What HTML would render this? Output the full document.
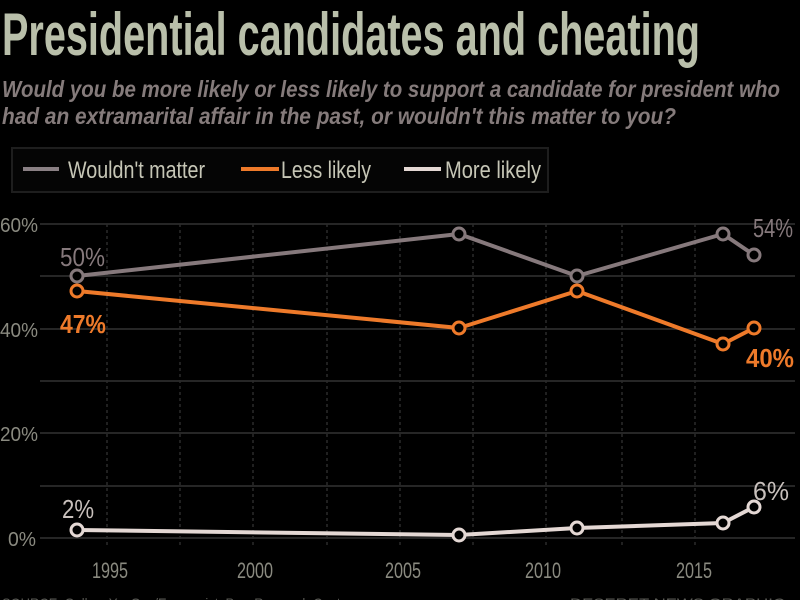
<!DOCTYPE html>
<html><head><meta charset="utf-8"><style>
html,body{margin:0;padding:0;background:#000;}
svg{display:block;}
text{font-family:"Liberation Sans Narrow","Liberation Sans",sans-serif;}
</style></head><body>
<svg width="800" height="600" viewBox="0 0 800 600" xmlns="http://www.w3.org/2000/svg">
<rect width="800" height="600" fill="#000"/>
<text x="2" y="55" font-size="60" font-weight="bold" fill="#b9bfaa" textLength="698" lengthAdjust="spacingAndGlyphs">Presidential candidates and cheating</text>
<text x="2" y="97" font-size="23" font-weight="bold" font-style="italic" fill="#857b7b" textLength="778" lengthAdjust="spacingAndGlyphs">Would you be more likely or less likely to support a candidate for president who</text>
<text x="2" y="124" font-size="23" font-weight="bold" font-style="italic" fill="#857b7b" textLength="674" lengthAdjust="spacingAndGlyphs">had an extramarital affair in the past, or wouldn't this matter to you?</text>
<rect x="12" y="148" width="536" height="44" fill="#050505" stroke="#1e1e1e" stroke-width="2"/>
<line x1="23" y1="169" x2="59" y2="169" stroke="#8a8084" stroke-width="4"/>
<text x="68" y="178" font-size="24" fill="#c6c6b6" textLength="137" lengthAdjust="spacingAndGlyphs">Wouldn't matter</text>
<line x1="241" y1="169" x2="279" y2="169" stroke="#ee7a2a" stroke-width="4"/>
<text x="281" y="178" font-size="24" fill="#c6c6b6" textLength="90" lengthAdjust="spacingAndGlyphs">Less likely</text>
<line x1="404" y1="169" x2="441" y2="169" stroke="#e4d8d4" stroke-width="4"/>
<text x="445" y="178" font-size="24" fill="#c6c6b6" textLength="96" lengthAdjust="spacingAndGlyphs">More likely</text>
<g stroke="#262626" stroke-width="2">
<line x1="40" y1="224" x2="795" y2="224"/><line x1="40" y1="276" x2="795" y2="276"/>
<line x1="40" y1="329" x2="795" y2="329"/><line x1="40" y1="381" x2="795" y2="381"/>
<line x1="40" y1="433" x2="795" y2="433"/><line x1="40" y1="486" x2="795" y2="486"/>
<line x1="40" y1="538" x2="795" y2="538"/>
</g>
<g stroke="#2a2a2a" stroke-width="1.5" stroke-dasharray="3,3">
<line x1="107" y1="224" x2="107" y2="545"/><line x1="180" y1="224" x2="180" y2="545"/>
<line x1="253" y1="224" x2="253" y2="545"/><line x1="327" y1="224" x2="327" y2="545"/>
<line x1="400" y1="224" x2="400" y2="545"/><line x1="473" y1="224" x2="473" y2="545"/>
<line x1="546" y1="224" x2="546" y2="545"/><line x1="622" y1="224" x2="622" y2="545"/>
<line x1="695" y1="224" x2="695" y2="545"/>
</g>
<g font-size="20" fill="#8a8a80">
<text x="0" y="232" textLength="38" lengthAdjust="spacingAndGlyphs">60%</text>
<text x="0" y="337" textLength="38" lengthAdjust="spacingAndGlyphs">40%</text>
<text x="0" y="441" textLength="38" lengthAdjust="spacingAndGlyphs">20%</text>
<text x="8" y="546" textLength="28" lengthAdjust="spacingAndGlyphs">0%</text>
</g>
<g font-size="22" fill="#8a8a80">
<text x="92" y="578" textLength="36" lengthAdjust="spacingAndGlyphs">1995</text>
<text x="237" y="578" textLength="36" lengthAdjust="spacingAndGlyphs">2000</text>
<text x="385" y="578" textLength="36" lengthAdjust="spacingAndGlyphs">2005</text>
<text x="525" y="578" textLength="36" lengthAdjust="spacingAndGlyphs">2010</text>
<text x="676" y="578" textLength="36" lengthAdjust="spacingAndGlyphs">2015</text>
</g>
<g fill="none" stroke-width="4" stroke-linejoin="round">
<polyline points="77,276 459,234 577,276 723,234 754,255" stroke="#86797c"/>
<polyline points="77,291 459,328 577,291 723,344 754,328" stroke="#ee7a2a"/>
<polyline points="77,530 459,535 577,528 723,523 754,507" stroke="#e4d8d4"/>
</g>
<g fill="#000" stroke-width="3">
<g stroke="#86797c"><circle cx="77" cy="276" r="6"/><circle cx="459" cy="234" r="6"/><circle cx="577" cy="276" r="6"/><circle cx="723" cy="234" r="6"/><circle cx="754" cy="255" r="6"/></g>
<g stroke="#ee7a2a"><circle cx="77" cy="291" r="6"/><circle cx="459" cy="328" r="6"/><circle cx="577" cy="291" r="6"/><circle cx="723" cy="344" r="6"/><circle cx="754" cy="328" r="6"/></g>
<g stroke="#e4d8d4"><circle cx="77" cy="530" r="6"/><circle cx="459" cy="535" r="6"/><circle cx="577" cy="528" r="6"/><circle cx="723" cy="523" r="6"/><circle cx="754" cy="507" r="6"/></g>
</g>
<g font-size="26">
<text x="60" y="266" fill="#86797c" textLength="45" lengthAdjust="spacingAndGlyphs">50%</text>
<text x="60" y="333" fill="#ee7a2a" font-weight="bold" textLength="46" lengthAdjust="spacingAndGlyphs">47%</text>
<text x="753" y="237" fill="#86797c" textLength="40" lengthAdjust="spacingAndGlyphs">54%</text>
<text x="746" y="367" fill="#ee7a2a" font-weight="bold" textLength="48" lengthAdjust="spacingAndGlyphs">40%</text>
<text x="62" y="518" fill="#c8c0bc" textLength="32" lengthAdjust="spacingAndGlyphs">2%</text>
<text x="753" y="500" fill="#c8c0bc" textLength="36" lengthAdjust="spacingAndGlyphs">6%</text>
</g>
<text x="2" y="608" font-size="14" fill="#5a5a55" textLength="350" lengthAdjust="spacingAndGlyphs">SOURCE: Gallup, YouGov/Economist, Pew Research Center</text>
<text x="570" y="608" font-size="14" fill="#5a5a55" textLength="215" lengthAdjust="spacingAndGlyphs">DESERET NEWS GRAPHIC</text>
</svg>
</body></html>
